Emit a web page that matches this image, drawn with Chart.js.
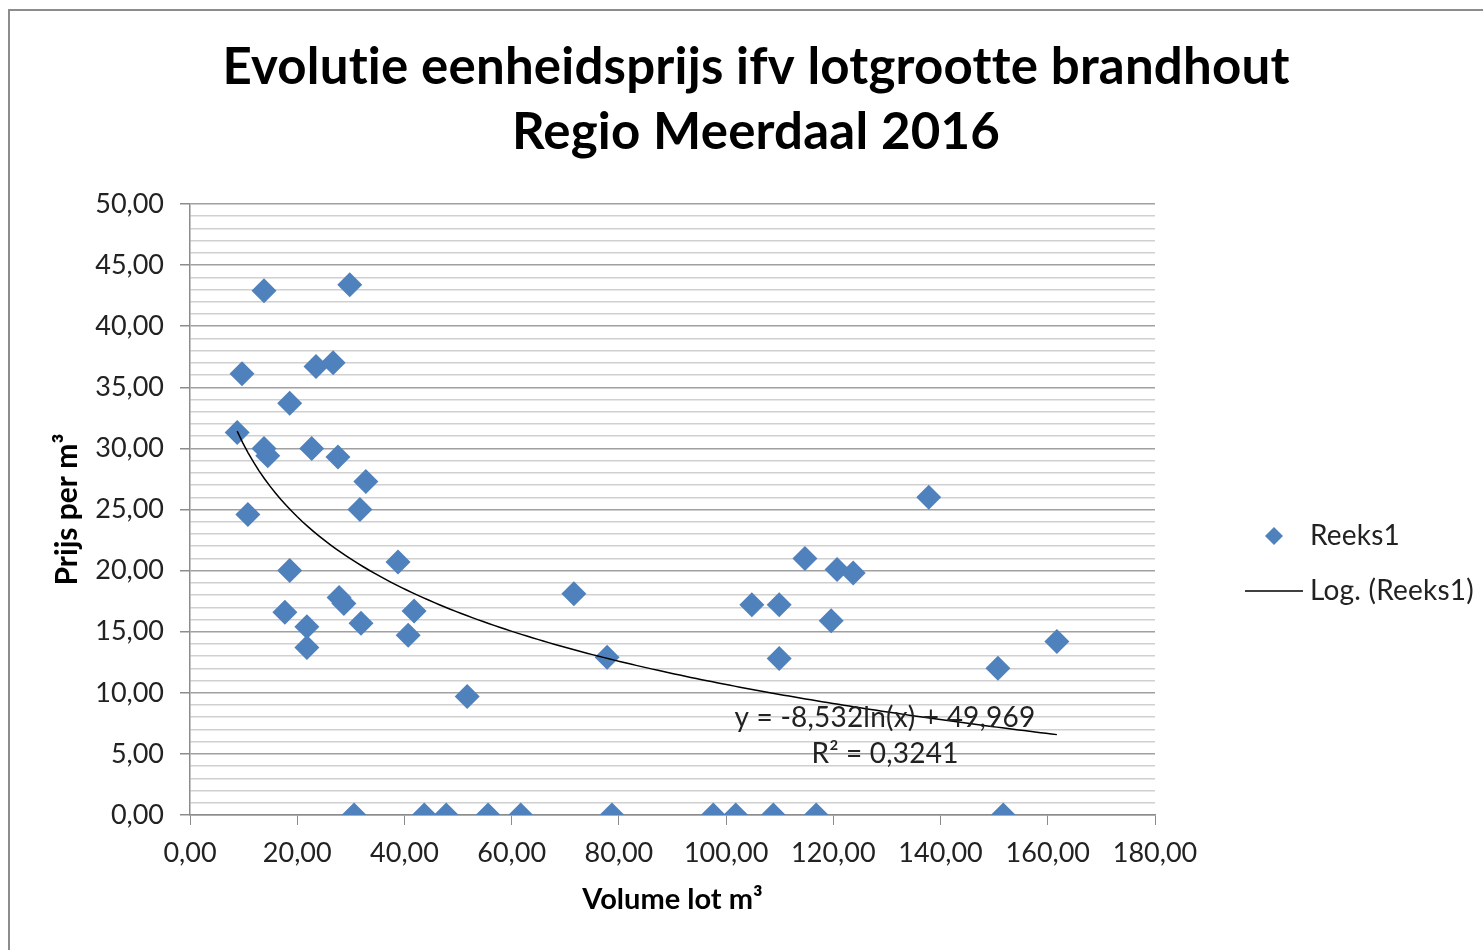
<!DOCTYPE html>
<html>
<head>
<meta charset="utf-8">
<script src="https://cdn.jsdelivr.net/npm/chart.js@4.4.1/dist/chart.umd.min.js"></script>
<style>
  html, body { margin: 0; padding: 0; background: #fff; }
  #wrap { width: 1483px; height: 950px; }
</style>
</head>
<body>
<div id="wrap"><canvas id="grafiek" width="1483" height="950"></canvas></div>
<script>
// volume per lot (m³) en prijs per m³
const volume = [8.8, 9.7, 10.8, 13.8, 13.8, 14.5, 17.7, 18.6, 18.6, 21.8, 21.8, 22.7, 23.5, 26.7, 27.6, 27.8, 28.7, 29.8, 30.6, 31.7, 31.9, 32.8, 38.8, 40.7, 41.8, 43.7, 47.8, 51.7, 55.6, 61.7, 71.6, 77.8, 78.7, 97.6, 101.8, 104.8, 108.8, 109.9, 109.9, 114.7, 116.8, 119.6, 120.7, 123.7, 137.8, 150.7, 151.7, 161.7];
const prijs = [31.3, 36.1, 24.6, 42.9, 30.0, 29.4, 16.6, 33.7, 20.0, 15.4, 13.7, 30.0, 36.7, 37.0, 29.3, 17.8, 17.3, 43.4, 0, 25.0, 15.7, 27.3, 20.7, 14.7, 16.7, 0, 0, 9.7, 0, 0, 18.1, 12.9, 0, 0, 0, 17.2, 0, 17.2, 12.8, 21.0, 0, 15.9, 20.1, 19.8, 26.0, 12.0, 0, 14.2];

// logaritmische trendlijn zoals in de grafiek vermeld
const trendA = -8.532;
const trendB = 49.969;
const trendTekst = ["y = -8,532ln(x) + 49,969", "R² = 0,3241"];

const titel = ["Evolutie eenheidsprijs ifv lotgrootte brandhout", "Regio Meerdaal 2016"];
const reeksNaam = "Reeks1";
const trendNaam = "Log. (Reeks1)";

const FONT = "Lato, 'Open Sans', sans-serif";
const blauw = "#4f81bd";

const punten = volume.map((v, i) => ({ x: v, y: prijs[i] }));
const xMin = Math.min(...volume), xMax = Math.max(...volume);
const trend = [];
for (let i = 0; i <= 150; i++) {
  const x = xMin + (xMax - xMin) * i / 150;
  trend.push({ x: x, y: trendA * Math.log(x) + trendB });
}

const fmt = v => v.toFixed(2).replace(".", ",");

const extra = {
  id: "extra",
  afterDraw(chart) {
    const c = chart.ctx;
    c.save();
    // kader
    c.strokeStyle = "#8c8c8c";
    c.lineWidth = 2;
    c.strokeRect(9, 10, 1490, 960);
    // titel (kleine letterafstand om ligaturen te vermijden)
    c.letterSpacing = "0.2px";
    c.fillStyle = "#000";
    c.textAlign = "center";
    c.textBaseline = "middle";
    c.font = "bold 51px " + FONT;
    c.fillText(titel[0], 756, 68);
    c.fillText(titel[1], 756, 133);
    // vergelijking trendlijn
    c.font = "28px " + FONT;
    c.fillStyle = "#222";
    c.fillText(trendTekst[0], 885, 718);
    c.fillText(trendTekst[1], 885, 754);
    // legende
    c.textAlign = "left";
    c.fillText(reeksNaam, 1310, 536);
    c.fillText(trendNaam, 1310, 591);
    c.fillStyle = blauw;
    c.beginPath();
    c.moveTo(1274, 527); c.lineTo(1283, 536); c.lineTo(1274, 545); c.lineTo(1265, 536);
    c.closePath(); c.fill();
    c.strokeStyle = "#000";
    c.lineWidth = 1.5;
    c.beginPath(); c.moveTo(1245, 591); c.lineTo(1303, 591); c.stroke();
    c.restore();
  }
};

new Chart(document.getElementById("grafiek"), {
  type: "scatter",
  data: {
    datasets: [
      {
        label: reeksNaam,
        data: punten,
        pointStyle: "rectRot",
        pointRadius: 12.5,
        pointHoverRadius: 12.5,
        backgroundColor: blauw,
        borderColor: blauw,
        borderWidth: 0,
        order: 2,
      },
      {
        label: trendNaam,
        type: "line",
        data: trend,
        borderColor: "#000",
        borderWidth: 1.5,
        pointRadius: 0,
        fill: false,
        tension: 0,
        order: 1,
      },
    ],
  },
  options: {
    responsive: false,
    animation: false,
    layout: { padding: { left: 10, top: 204, right: 328, bottom: 0 } },
    plugins: { legend: { display: false }, tooltip: { enabled: false } },
    scales: {
      x: {
        type: "linear",
        min: 0,
        max: 180,
        afterFit: s => { s.height = 135; },
        ticks: { stepSize: 20, callback: v => fmt(v), color: "#222", padding: 12, font: { family: FONT, size: 27 }, maxRotation: 0 },
        grid: { drawOnChartArea: false, tickLength: 10, tickColor: "#8c8c8c" },
        border: { color: "#8c8c8c", width: 1.5 },
        title: { display: true, text: "Volume lot m³", color: "#000", font: { family: FONT, size: 29, weight: "bold" }, padding: { top: 0, bottom: 33 } },
      },
      y: {
        min: 0,
        max: 50,
        afterFit: s => { s.width = 180; },
        ticks: {
          stepSize: 1,
          autoSkip: false,
          maxTicksLimit: 60,
          callback: v => (v % 5 === 0 ? fmt(v) : ""),
          color: "#222",
          padding: 16,
          font: { family: FONT, size: 27 },
        },
        grid: {
          color: ctx => (ctx.tick && ctx.tick.value % 5 === 0 ? "#a0a0a0" : "#d0d0d0"),
          lineWidth: 1.5,
          tickLength: 10,
          tickColor: ctx => (ctx.tick && ctx.tick.value % 5 === 0 ? "#8c8c8c" : "rgba(0,0,0,0)"),
        },
        border: { color: "#8c8c8c", width: 1.5 },
        title: { display: true, text: "Prijs per m³", color: "#000", font: { family: FONT, size: 30, weight: "bold" }, padding: { top: 39, bottom: 0 } },
      },
    },
  },
  plugins: [extra],
});
</script>
</body>
</html>
